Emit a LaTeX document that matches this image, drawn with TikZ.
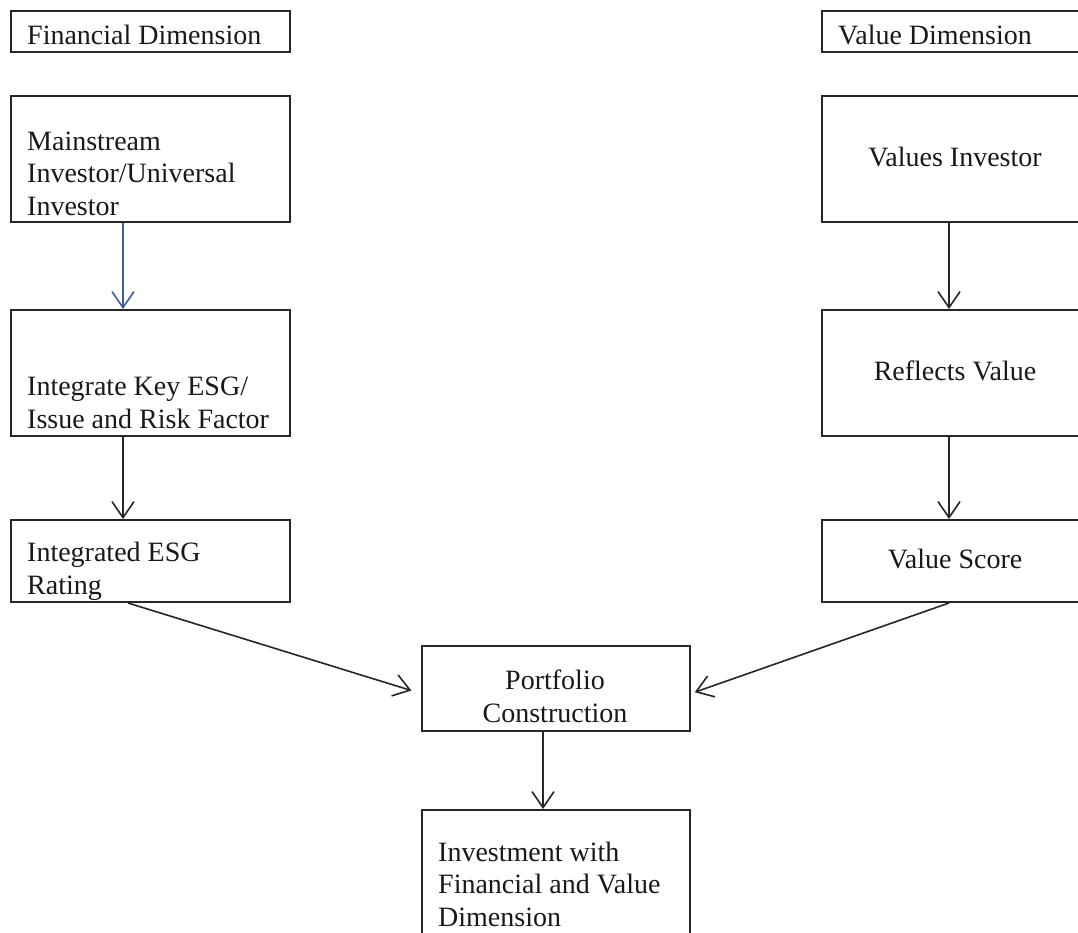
\documentclass[tikz,border=0pt]{standalone}
\usepackage{fontspec}
\setmainfont{Liberation Serif}
\usetikzlibrary{arrows.meta}
\definecolor{arrowblue}{RGB}{60,95,155}
\begin{document}
\begin{tikzpicture}[x=1pt,y=-1pt,
  box/.style={draw=black!85,line width=2pt,rectangle,inner sep=0pt,anchor=north west},
  txt/.style={font=\fontsize{28}{32.5}\selectfont,inner sep=0pt,align=left,text=black!90},
  tip/.style={-{Straight Barb[length=16pt,width=22pt,line width=1.6pt]}},
  conn/.style={draw=black!85,line width=1.6pt,tip},
]
\useasboundingbox (0,0) rectangle (1078,932);
\fill[white] (0,0) rectangle (1078,932);
\clip (0,0) rectangle (1078,932);
% left column boxes
\node[box,minimum width=279pt,minimum height=41pt] (fd) at (10,10) {};
\node[box,minimum width=279pt,minimum height=126pt] (mi) at (10,95) {};
\node[box,minimum width=279pt,minimum height=126pt] (ik) at (10,309) {};
\node[box,minimum width=279pt,minimum height=82pt] (ie) at (10,519) {};
% right column boxes (cut off at the right edge)
\node[box,minimum width=264pt,minimum height=41pt] (vd) at (821,10) {};
\node[box,minimum width=264pt,minimum height=126pt] (vi) at (821,95) {};
\node[box,minimum width=264pt,minimum height=126pt] (rv) at (821,309) {};
\node[box,minimum width=264pt,minimum height=82pt] (vs) at (821,519) {};
% centre boxes
\node[box,minimum width=268pt,minimum height=85pt] (pc) at (421,645) {};
\node[box,minimum width=268pt,minimum height=160pt] (iv) at (421,809) {};
% texts (base anchor = baseline of the last line)
\node[txt,anchor=base west] (tfd) at (27,44) {Financial Dimension};
\node[txt,anchor=base west] (tmi) at (27,215) {Mainstream\\Investor/Universal\\Investor};
\node[txt,anchor=base west] (tik) at (27,428) {Integrate Key ESG/\\Issue and Risk Factor};
\node[txt,anchor=base west] (tie) at (27,594) {Integrated ESG\\Rating};
\node[txt,anchor=base west] (tvd) at (838,44) {Value Dimension};
\node[txt,anchor=base] (tvi) at (955,166) {Values Investor};
\node[txt,anchor=base] (trv) at (955,380) {Reflects Value};
\node[txt,anchor=base] (tvs) at (955,568) {Value Score};
\node[txt,anchor=base,align=center] (tpc) at (555,722) {Portfolio\\Construction};
\node[txt,anchor=base west] (tiv) at (438,926) {Investment with\\Financial and Value\\Dimension};
% connectors
\draw[conn,draw=arrowblue] ([xshift=-27.5pt]mi.south) -- ([xshift=-27.5pt]ik.north);
\draw[conn] ([xshift=-27.5pt]ik.south) -- ([xshift=-27.5pt]ie.north);
\draw[conn] ([xshift=-5pt]vi.south) -- ([xshift=-5pt]rv.north);
\draw[conn] ([xshift=-5pt]rv.south) -- ([xshift=-5pt]vs.north);
\draw[conn,shorten >=10pt] ([xshift=-22.5pt]ie.south) -- ([yshift=-5pt]pc.west);
\draw[conn,shorten >=4pt] ([xshift=-5pt]vs.south) -- ([yshift=-5pt]pc.east);
\draw[conn] ([xshift=-13pt]pc.south) -- ([xshift=-13pt]iv.north);
\end{tikzpicture}
\end{document}
